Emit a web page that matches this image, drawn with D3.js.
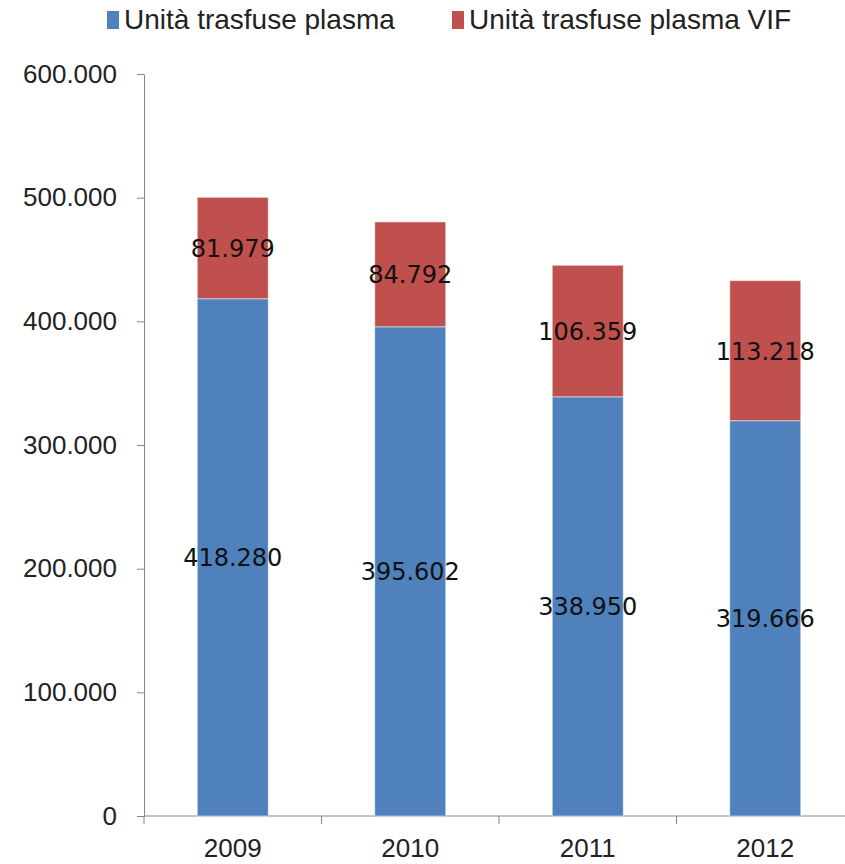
<!DOCTYPE html>
<html>
<head>
<meta charset="utf-8">
<script src="https://cdn.jsdelivr.net/npm/d3@7"></script>
<style>
  body { margin: 0; background: #fff; }
</style>
</head>
<body>
<div id="chart"></div>
<script>
var years = ["2009", "2010", "2011", "2012"];
var plasma = [418280, 395602, 338950, 319666];
var plasmaVIF = [81979, 84792, 106359, 113218];
var seriesNames = ["Unità trasfuse plasma", "Unità trasfuse plasma VIF"];
var seriesColors = ["#4F81BD", "#C0504D"];
var yTicks = [0, 100000, 200000, 300000, 400000, 500000, 600000];

var width = 845, height = 864;
var margin = { top: 74, right: -9, bottom: 48, left: 144 };

var it = d3.formatLocale({ decimal: ",", thousands: ".", grouping: [3], currency: ["€", ""] });
var fmt = it.format(",d");

var svg = d3.select("#chart").append("svg")
  .attr("width", width)
  .attr("height", height);

var x = d3.scaleBand()
  .domain(years)
  .range([margin.left, width - margin.right])
  .paddingInner(0.6)
  .paddingOuter(0.3);

var y = d3.scaleLinear()
  .domain([0, 600000])
  .range([height - margin.bottom, margin.top]);

var rows = years.map(function(yr, i) {
  return { year: yr, plasma: plasma[i], vif: plasmaVIF[i] };
});
var stack = d3.stack().keys(["plasma", "vif"])(rows);

var tickFont = "'Liberation Sans', Arial, sans-serif";
var labelFont = "'DejaVu Sans', Verdana, sans-serif";

// y axis
var yAxis = svg.append("g")
  .attr("transform", "translate(" + margin.left + ",0)")
  .call(d3.axisLeft(y).tickValues(yTicks).tickFormat(fmt).tickSize(7).tickPadding(20).tickSizeOuter(0));
yAxis.select(".domain").attr("stroke", "#868686");
yAxis.selectAll(".tick line").attr("stroke", "#868686");
yAxis.selectAll("text")
  .attr("fill", "#222")
  .style("font-family", tickFont)
  .style("font-size", "26px");

// x axis: ticks at band boundaries
var xAxisG = svg.append("g")
  .attr("transform", "translate(0," + y(0) + ")");
xAxisG.append("line")
  .attr("x1", margin.left).attr("x2", width + 20)
  .attr("stroke", "#868686");
var step = x.step();
var bounds = years.map(function(yr) { return x(yr) + x.bandwidth() / 2 - step / 2; });
bounds.push(bounds[bounds.length - 1] + step);
xAxisG.selectAll(".xt").data(bounds).enter().append("line")
  .attr("class", "xt")
  .attr("x1", function(d) { return d; }).attr("x2", function(d) { return d; })
  .attr("y1", 0).attr("y2", 8)
  .attr("stroke", "#868686");
xAxisG.selectAll(".xl").data(years).enter().append("text")
  .attr("class", "xl")
  .attr("x", function(d) { return x(d) + x.bandwidth() / 2; })
  .attr("y", 41)
  .attr("text-anchor", "middle")
  .attr("fill", "#222")
  .style("font-family", tickFont)
  .style("font-size", "26px")
  .text(function(d) { return d; });

// bars
stack.forEach(function(layer, li) {
  svg.append("g").selectAll("rect").data(layer).enter().append("rect")
    .attr("x", function(d) { return x(d.data.year); })
    .attr("width", x.bandwidth())
    .attr("y", function(d) { return y(d[1]); })
    .attr("height", function(d) { return y(d[0]) - y(d[1]); })
    .attr("fill", seriesColors[li])
    .attr("stroke", "rgba(255,255,255,0.5)")
    .attr("stroke-width", 1);
});

// data labels
stack.forEach(function(layer) {
  svg.append("g").selectAll("text").data(layer).enter().append("text")
    .attr("x", function(d) { return x(d.data.year) + x.bandwidth() / 2; })
    .attr("y", function(d) { return (y(d[0]) + y(d[1])) / 2 + 9; })
    .attr("text-anchor", "middle")
    .attr("fill", "#111")
    .style("font-family", labelFont)
    .style("font-size", "24px")
    .text(function(d) { return fmt(d[1] - d[0]); });
});

// legend
var legend = svg.append("g");
var legendX = [107, 452];
seriesNames.forEach(function(name, i) {
  legend.append("rect")
    .attr("x", legendX[i]).attr("y", 11)
    .attr("width", 12).attr("height", 18)
    .attr("fill", seriesColors[i]);
  legend.append("text")
    .attr("x", legendX[i] + 17).attr("y", 29)
    .attr("fill", "#222")
    .style("font-family", tickFont)
    .style("font-size", "28px")
    .text(name);
});
</script>
</body>
</html>
